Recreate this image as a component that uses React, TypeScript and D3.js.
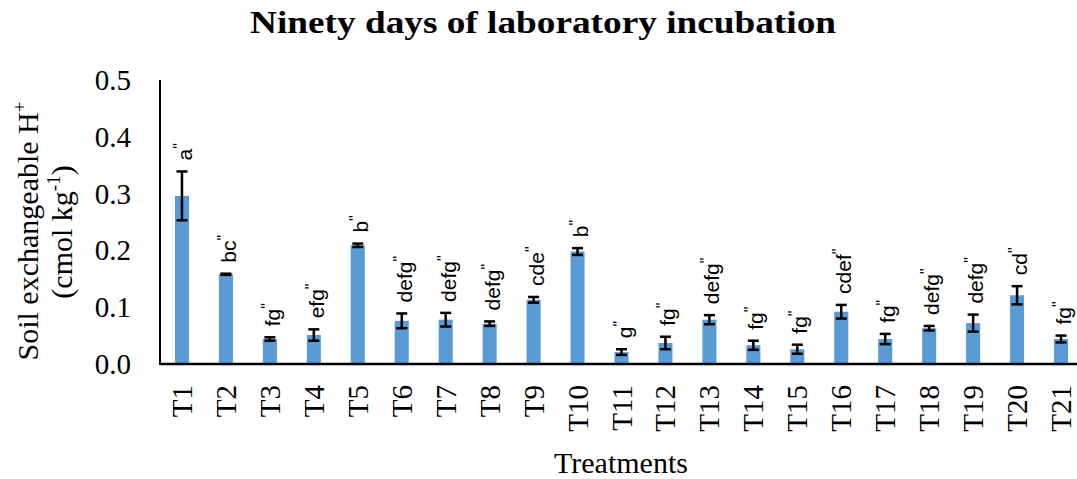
import React from "react";
import * as d3 from "d3";

const treatments = ["T1","T2","T3","T4","T5","T6","T7","T8","T9","T10","T11","T12","T13","T14","T15","T16","T17","T18","T19","T20","T21"];
const means = [0.296,0.158,0.044,0.051,0.209,0.076,0.078,0.071,0.113,0.198,0.021,0.037,0.078,0.033,0.026,0.092,0.044,0.063,0.072,0.121,0.044];
const errors = [0.043,0.001,0.003,0.010,0.003,0.013,0.012,0.004,0.005,0.006,0.005,0.011,0.008,0.008,0.008,0.012,0.009,0.004,0.015,0.016,0.006];
const letters = ["a","bc","fg","efg","b","defg","defg","defg","cde","b","g","fg","defg","fg","fg","cdef","fg","defg","defg","cd","fg"];
const yTicks = [0,0.1,0.2,0.3,0.4,0.5];

const W = 1077, H = 479;
const left = 160, right = 1083, top = 80, bottom = 364;

export default function App() {
  const x = d3.scaleBand<string>().domain(treatments).range([left, right]).paddingInner(0.68).paddingOuter(0.34);
  const y = d3.scaleLinear().domain([0, 0.5]).range([bottom, top]);
  const bw = x.bandwidth();
  const serif = "'Liberation Serif', 'Times New Roman', serif";
  const sans = "'Liberation Sans', Arial, sans-serif";
  return (
    <svg width={W} height={H} style={{ position: "absolute", left: 0, top: 0, background: "#fff" }}>
      <rect width={W} height={H} fill="#fff" />
      <text x={543} y={33} textAnchor="middle" fontFamily={serif} fontWeight="bold" fontSize={31} textLength={586} lengthAdjust="spacingAndGlyphs">
        Ninety days of laboratory  incubation
      </text>
      {yTicks.map((t) => (
        <text key={t} x={131} y={y(t) + 10} textAnchor="end" fontFamily={serif} fontSize={29} fill="#000">
          {d3.format(".1f")(t)}
        </text>
      ))}
      {treatments.map((t, i) => (
        <rect key={t} x={x(t)!} y={y(means[i])} width={bw} height={bottom - y(means[i])} fill="#5B9BD5" />
      ))}
      {treatments.map((t, i) => {
        const cx = x(t)! + bw / 2;
        const y1 = y(means[i] + errors[i]);
        const y2 = y(means[i] - errors[i]);
        return (
          <g key={t} stroke="#000" strokeWidth={2.5}>
            <line x1={cx} x2={cx} y1={y1} y2={y2} />
            <line x1={cx - 5.5} x2={cx + 5.5} y1={y1} y2={y1} />
            <line x1={cx - 5.5} x2={cx + 5.5} y1={y2} y2={y2} />
          </g>
        );
      })}
      {treatments.map((t, i) => {
        const cx = x(t)! + bw / 2;
        const yy = y(means[i] + errors[i]) - 11;
        return (
          <text key={t} transform={`translate(${cx + 10},${yy}) rotate(-90)`} fontFamily={sans} fontSize={21} fill="#000">
            {letters[i]}
            <tspan dy={-7} fontSize={16}>"</tspan>
          </text>
        );
      })}
      <line x1={left} x2={left} y1={top} y2={bottom + 1} stroke="#000" strokeWidth={2} />
      <line x1={left} x2={right} y1={bottom} y2={bottom} stroke="#000" strokeWidth={2.5} />
      {treatments.map((t) => {
        const cx = x(t)! + bw / 2;
        return (
          <text key={t} transform={`translate(${cx + 10},${385}) rotate(-90)`} textAnchor="end" fontFamily={serif} fontSize={29} fill="#000">
            {t}
          </text>
        );
      })}
      <text x={621} y={473} textAnchor="middle" fontFamily={serif} fontSize={30}>Treatments</text>
      <text transform={`translate(38,231) rotate(-90)`} textAnchor="middle" fontFamily={serif} fontSize={30}>
        Soil exchangeable H<tspan dy={-12} fontSize={19}>+</tspan>
      </text>
      <text transform={`translate(72,232) rotate(-90)`} textAnchor="middle" fontFamily={serif} fontSize={30}>
        (cmol kg<tspan dy={-12} fontSize={19}>-1</tspan><tspan dy={12}>)</tspan>
      </text>
    </svg>
  );
}
